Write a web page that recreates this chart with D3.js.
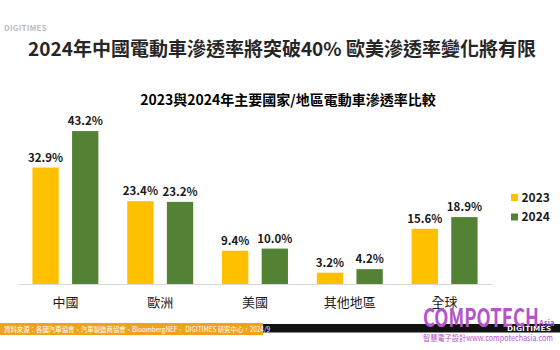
<!DOCTYPE html>
<html>
<head>
<meta charset="utf-8">
<script src="https://cdn.jsdelivr.net/npm/d3@7/dist/d3.min.js"></script>
<style>
  html, body { margin: 0; padding: 0; background: #fff; }
  svg { display: block; }
  text { font-family: "Noto Sans CJK TC", "Noto Sans", sans-serif; }
</style>
</head>
<body>
<svg id="chart" width="560" height="350"></svg>
<script>
// EV penetration rate by region, 2023 vs 2024 (%)
const categories = ["中國", "歐洲", "美國", "其他地區", "全球"];
const series = ["2023", "2024"];
const values2023 = [32.9, 23.4, 9.4, 3.2, 15.6];
const values2024 = [43.2, 23.2, 10.0, 4.2, 18.9];
const seriesColors = ["#FFC000", "#548235"];

const titleText = "2024年中國電動車滲透率將突破40% 歐美滲透率變化將有限";
const subtitleText = "2023與2024年主要國家/地區電動車滲透率比較";
const sourceText = "資料來源：各國汽車協會、汽車製造商協會、BloombergNEF、 DIGITIMES 研究中心，2024/9";

const svg = d3.select("#chart");
const W = 560, H = 350;

// Brand mark, top left
svg.append("text")
  .attr("x", 4).attr("y", 31)
  .attr("font-family", "'Open Sans', 'DejaVu Sans', sans-serif")
  .attr("font-size", 8).attr("font-weight", 700)
  .attr("fill", "#bdbdbd")
  .attr("letter-spacing", 0.2)
  .text("DIGITIMES");

// Headline
svg.append("text")
  .attr("x", 282).attr("y", 56)
  .attr("text-anchor", "middle")
  .attr("font-size", 19).attr("font-weight", 700)
  .attr("fill", "#262626")
  .text(titleText);

// Chart heading
svg.append("text")
  .attr("x", 288).attr("y", 104.5)
  .attr("text-anchor", "middle")
  .attr("font-size", 14).attr("font-weight", 700)
  .attr("fill", "#000")
  .text(subtitleText);

// Scales
const baseY = 284;
const x0 = d3.scaleBand().domain(categories).range([18, 492]).padding(0);
const x1 = d3.scaleBand().domain(series).range([0, x0.bandwidth()])
  .paddingInner(0.336).paddingOuter(0.364);
const y = d3.scaleLinear().domain([0, 50]).range([baseY, baseY - 177]);
const color = d3.scaleOrdinal().domain(series).range(seriesColors);

const rows = categories.map((c, i) => ({
  cat: c,
  vals: [
    { key: series[0], v: values2023[i] },
    { key: series[1], v: values2024[i] }
  ]
}));

const groups = svg.append("g").selectAll("g")
  .data(rows).join("g")
  .attr("transform", d => `translate(${x0(d.cat)},0)`);

groups.selectAll("rect")
  .data(d => d.vals).join("rect")
  .attr("x", d => x1(d.key))
  .attr("y", d => y(d.v))
  .attr("width", x1.bandwidth())
  .attr("height", d => baseY - y(d.v))
  .attr("fill", d => color(d.key));

groups.selectAll("text.val")
  .data(d => d.vals).join("text")
  .attr("class", "val")
  .attr("x", d => x1(d.key) + x1.bandwidth() / 2)
  .attr("y", d => y(d.v) - 6)
  .attr("text-anchor", "middle")
  .attr("font-family", "'Open Sans', 'Noto Sans', sans-serif")
  .attr("font-size", 11.5).attr("font-weight", 700)
  .attr("fill", "#1a1a1a")
  .text(d => d.v.toFixed(1) + "%");

// Category axis
const axis = svg.append("g")
  .attr("transform", `translate(0,${baseY})`)
  .call(d3.axisBottom(x0).tickSize(0).tickPadding(14).tickSizeOuter(0));
axis.select(".domain").attr("stroke", "#d9d9d9").attr("stroke-width", 1);
axis.selectAll("text")
  .attr("font-family", "'Noto Sans CJK TC', sans-serif")
  .attr("font-size", 13).attr("fill", "#1a1a1a");

// Legend
const legend = svg.append("g").selectAll("g")
  .data(series).join("g")
  .attr("transform", (d, i) => `translate(511,${194 + i * 19.5})`);
legend.append("rect")
  .attr("width", 7).attr("height", 7)
  .attr("fill", d => color(d));
legend.append("text")
  .attr("x", 10.5).attr("y", 7.5)
  .attr("font-family", "'Open Sans', 'Noto Sans', sans-serif")
  .attr("font-size", 12).attr("font-weight", 700)
  .attr("fill", "#1a1a1a")
  .text(d => d);

// Footer band with source note
svg.append("rect").attr("x", 263).attr("y", 324).attr("width", W - 263).attr("height", 8.5).attr("fill", "#111");
svg.append("rect").attr("x", 0).attr("y", 323).attr("width", 263).attr("height", 12).attr("fill", "#f2a11f");
svg.append("text")
  .attr("x", 4).attr("y", 331.5)
  .attr("font-size", 7).attr("fill", "#fff")
  .attr("textLength", 266).attr("lengthAdjust", "spacingAndGlyphs")
  .text(sourceText);

// Publisher mark, bottom right
svg.append("text")
  .attr("x", 423).attr("y", 326.5)
  .attr("font-family", "'Liberation Sans Narrow', 'DejaVu Sans Condensed', sans-serif")
  .attr("font-size", 26).attr("font-weight", 700)
  .attr("fill", "#b455c9")
  .attr("textLength", 116).attr("lengthAdjust", "spacingAndGlyphs")
  .text("COMPOTECH");
svg.append("text")
  .attr("x", 539).attr("y", 326)
  .attr("font-family", "'Liberation Sans Narrow', sans-serif")
  .attr("font-size", 7.5).attr("font-weight", 700)
  .attr("fill", "#b455c9")
  .text("Asia");
svg.append("text")
  .attr("x", 507).attr("y", 331)
  .attr("font-family", "'Open Sans', sans-serif")
  .attr("font-size", 6.5).attr("font-weight", 700)
  .attr("fill", "#fff")
  .attr("textLength", 44).attr("lengthAdjust", "spacingAndGlyphs")
  .text("DIGITIMES");
svg.append("text")
  .attr("x", 423).attr("y", 340.5)
  .attr("font-size", 8)
  .attr("fill", "#b455c9")
  .attr("textLength", 130).attr("lengthAdjust", "spacingAndGlyphs")
  .text("智慧電子設計www.compotechasia.com");
</script>
</body>
</html>
